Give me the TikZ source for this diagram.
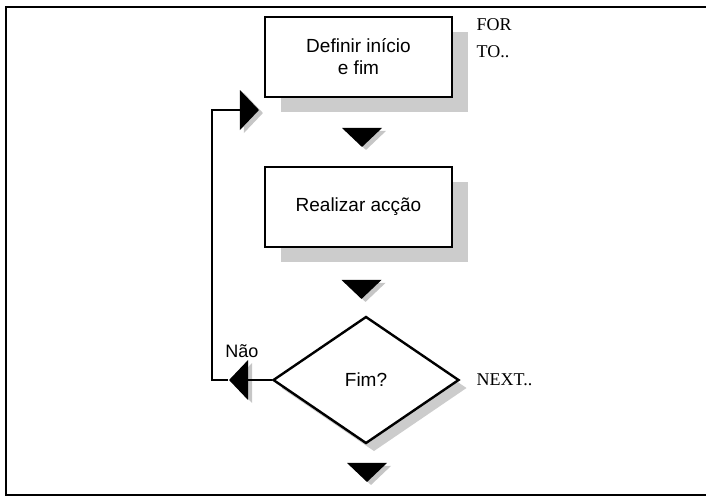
\documentclass[tikz,border=0pt]{standalone}
\usepackage{fontspec}
\setmainfont{Liberation Serif}
\newfontfamily\caixafont{Liberation Sans}
\usetikzlibrary{shapes.geometric,shadows,positioning}

\begin{document}
\begin{tikzpicture}[x=0.5pt, y=-0.5pt,
    caixa/.style={draw, line width=1.2pt, fill=white, minimum width=93.5pt, minimum height=40pt,
      align=center, font=\caixafont\fontsize{9.5}{11}\selectfont,
      drop shadow={shadow xshift=8pt, shadow yshift=-7.5pt, fill=gray!40, opacity=1}},
    losango/.style={diamond, draw, line width=1.2pt, fill=white, minimum width=93pt, minimum height=63.5pt,
      inner sep=0pt, font=\caixafont\fontsize{9.5}{11}\selectfont,
      drop shadow={shadow xshift=4pt, shadow yshift=-4pt, fill=gray!40, opacity=1}},
    ponta/.style={isosceles triangle, isosceles triangle stretches, fill=black, inner sep=0pt,
      minimum width=20pt, minimum height=9.5pt,
      drop shadow={shadow xshift=2pt, shadow yshift=-1.5pt, fill=gray!45, opacity=1}},
    rotulo/.style={inner sep=0pt, font=\fontsize{9}{13.5}\selectfont},
    linha/.style={line width=1pt}]
  \useasboundingbox (0,0) rectangle (706,500);
  % moldura
  \draw[line width=1pt] (706,7) -- (6,7) -- (6,495) -- (706,495);

  % blocos
  \node[caixa] (defin) at (358.5,57) {Definir início\\e fim};
  \node[caixa] (acao) at (358.5,207) {Realizar acção};
  \node[losango] (fim) at (366,380) {Fim?};

  % setas
  \node[ponta, rotate=-90, anchor=apex] (td1) at (362,148) {};
  \node[ponta, rotate=-90, anchor=apex] (td2) at (361.5,300) {};
  \node[ponta, rotate=-90, anchor=apex] (td3) at (367,483) {};
  \node[ponta, anchor=apex] (tvolta) at (260,110) {};
  \node[ponta, rotate=180, anchor=apex] (tnao) at (228,380) {};

  % ciclo
  \draw[linha] (fim.west) -- (tnao.lower side);
  \draw[linha] (tnao.apex) -- ++(-16,0) |- (tvolta.lower side);

  % textos
  \node[rotulo, anchor=north west, align=left] (for) at ([xshift=11.5pt, yshift=-1pt]defin.north east) {FOR\\TO..};
  \node[rotulo, anchor=west] (next) at ([xshift=8pt]fim.east) {NEXT..};
  \node[rotulo, font=\caixafont\fontsize{9}{11}\selectfont, anchor=south west] (nao) at ([xshift=-1.5pt, yshift=11pt]tnao.apex) {Não};
\end{tikzpicture}
\end{document}
